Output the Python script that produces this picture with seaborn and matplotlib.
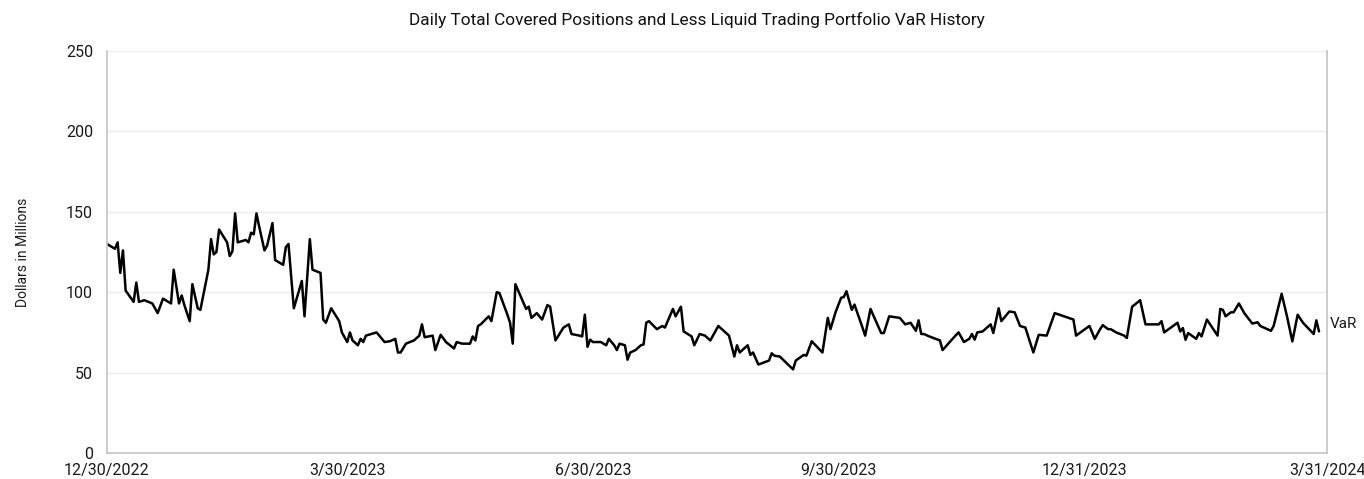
import pandas as pd
import matplotlib
matplotlib.use("Agg")
import matplotlib.pyplot as plt
import seaborn as sns

# day offsets from 12/30/2022 and VaR ($mm)
start_date = "2022-12-30"
day_offset = [0, 3, 4, 5, 6, 7, 10, 11, 12, 14, 17, 19, 21, 24, 25, 27, 28, 29, 31, 32,
              34, 35, 38, 39, 40, 41, 42, 45, 46, 47, 48, 49, 52, 53, 54, 55, 56, 57, 59, 60,
              62, 63, 66, 67, 68, 70, 73, 74, 76, 77, 80, 81, 82, 84, 87, 88, 90, 91, 92, 94,
              95, 96, 97, 101, 104, 106, 108, 109, 110, 112, 115, 117, 118, 119, 122, 123, 125, 127, 130, 131,
              133, 136, 137, 138, 139, 140, 143, 144, 146, 147, 150, 151, 152, 153, 157, 158, 159, 161, 163, 165,
              166, 168, 171, 173, 174, 177, 178, 179, 180, 181, 182, 185, 187, 188, 190, 191, 192, 194, 195, 196,
              198, 200, 201, 202, 203, 206, 208, 209, 212, 213, 215, 216, 219, 220, 222, 224, 226, 229, 231, 233,
              235, 236, 237, 240, 241, 242, 244, 248, 249, 250, 252, 257, 258, 261, 262, 264, 268, 270, 271, 273,
              275, 276, 277, 279, 280, 283, 284, 286, 290, 291, 293, 297, 299, 301, 303, 304, 305, 306, 308, 312,
              313, 317, 319, 321, 323, 324, 325, 326, 328, 331, 332, 334, 335, 338, 340, 342, 344, 347, 349, 352,
              355, 362, 363, 368, 370, 372, 373, 375, 376, 378, 381, 382, 384, 385, 387, 389, 390, 394, 395, 396,
              401, 402, 403, 404, 405, 408, 409, 410, 412, 416, 417, 418, 419, 421, 422, 424, 426, 429, 431, 432,
              436, 437, 440, 442, 444, 446, 448, 452, 453, 454]
var_mm = [130, 127, 131, 112, 126, 101, 94, 106, 94, 95, 93, 87, 96, 93, 114, 93, 98, 92, 82, 105,
          90, 89, 114, 133, 123.5, 125, 139, 131, 122.5, 125.5, 149, 131, 132.5, 131, 137, 136, 149, 141, 126, 129,
          143, 120, 117, 128, 130, 90, 107, 85, 133, 114, 112, 83, 81, 90, 82, 75, 69, 75, 70, 67,
          71, 69, 73, 75, 69, 69.5, 71, 62.5, 62.5, 68, 70, 73, 80, 72, 73, 64, 73.5, 69, 65, 69,
          68, 68, 72.5, 70, 79, 80, 85, 82, 100, 99.5, 86, 81, 68, 105, 89.6, 91, 84, 87, 83, 92,
          91, 70, 78, 80, 74, 73, 72.5, 86, 66, 70.5, 69, 69, 67, 71, 67, 64, 68, 67, 58, 62.5,
          64, 67, 67.5, 81, 82, 77, 79, 78, 89.6, 85, 91, 75.6, 72.5, 67, 74, 73, 70, 79, 76, 73,
          60, 67, 62.5, 67, 61, 62.5, 55, 57.5, 62, 60.5, 60, 52, 57.5, 61, 60.5, 69.5, 62.5, 84, 77, 88,
          96.5, 97, 100.6, 89, 92.3, 78, 73, 89.6, 74.6, 74.6, 85, 84, 80, 81, 76, 82.5, 74, 74, 72.5, 70,
          64, 71.5, 75, 69, 71, 74, 70.5, 75, 75.6, 80, 74.6, 90, 82, 88, 87.5, 79, 78, 62.5, 73.5, 73,
          87, 83, 73, 79, 71, 77, 79.5, 77, 77, 75, 73, 71.5, 91, 92.3, 95, 80, 80, 80, 82, 75,
          81, 75.6, 77.7, 70.4, 74.6, 71, 74.6, 72.5, 83, 73, 89.6, 89, 85, 87.5, 87.5, 93, 87, 80.5, 81.3, 79,
          76, 79, 99, 85, 69.4, 86, 81, 74, 82.5, 75.6]

tick_dates = ["2022-12-30", "2023-03-30", "2023-06-30", "2023-09-30", "2023-12-31", "2024-03-31"]
tick_labels = ["12/30/2022", "3/30/2023", "6/30/2023", "9/30/2023", "12/31/2023", "3/31/2024"]
y_ticks = [0, 50, 100, 150, 200, 250]

df = pd.DataFrame({
    "date": pd.Timestamp(start_date) + pd.to_timedelta(day_offset, unit="D"),
    "VaR": var_mm,
})

sns.set_style("white")
plt.rcParams["font.family"] = ["Roboto", "DejaVu Sans"]

fig = plt.figure(figsize=(13.64, 4.79), dpi=100)
ax = fig.add_axes([0.0784, 0.0543, 0.8945, 0.8392])

sns.lineplot(data=df, x="date", y="VaR", color="black", linewidth=1.8, ax=ax)

ax.set_xlim(pd.Timestamp(tick_dates[0]), pd.Timestamp(tick_dates[-1]))
ax.set_ylim(0, 250)
ax.set_yticks(y_ticks)
ax.set_xticks(pd.to_datetime(tick_dates))
ax.set_xticklabels(tick_labels, fontsize=11.5, color="#1a1a1a")
ax.tick_params(axis="y", labelsize=11.5, labelcolor="#1a1a1a", length=4, color="#bbbbbb", pad=6)
ax.tick_params(axis="x", length=4, color="#bbbbbb", pad=3)
ax.grid(axis="y", color="#ececec", linewidth=1)
ax.set_axisbelow(True)

for side in ["left", "bottom", "right"]:
    ax.spines[side].set_color("#c4c4c4")
    ax.spines[side].set_linewidth(1.2)
ax.spines["top"].set_visible(False)

ax.set_xlabel("")
ax.set_ylabel("Dollars in Millions", fontsize=10, color="#1a1a1a", labelpad=26)

last = df.iloc[-1]
ax.annotate("VaR", xy=(last["date"], last["VaR"]), xytext=(8, 5), textcoords="offset points",
            fontsize=11, color="#1a1a1a", va="center", ha="left", annotation_clip=False)

fig.text(0.511, 0.958, "Daily Total Covered Positions and Less Liquid Trading Portfolio VaR History",
         ha="center", va="center", fontsize=12.4, color="#111111")

fig.savefig("out.png", dpi=100)
